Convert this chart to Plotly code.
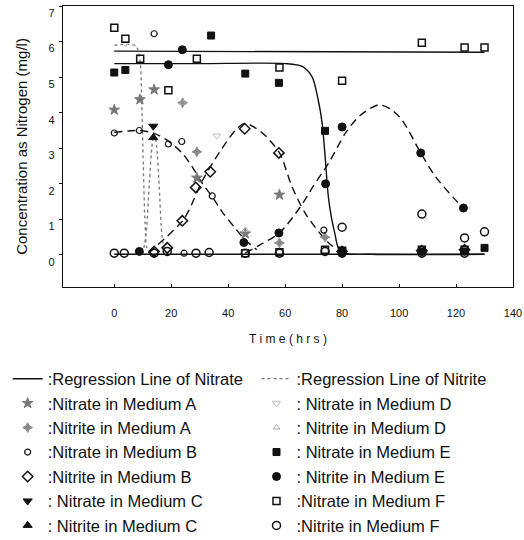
import plotly.graph_objects as go

# ---------------- data ----------------
# Regression lines
reg_nitrate_F_x = [0, 130]
reg_nitrate_F_y = [5.73, 5.70]
reg_nitrate_E_x = [0, 30, 60, 66, 69.5, 71.5, 73, 74, 75.3, 77.4, 79.5, 90, 130]
reg_nitrate_E_y = [5.38, 5.38, 5.38, 5.3, 5.0, 4.4, 3.7, 2.8, 1.55, 0.62, 0.08, 0.02, 0.02]
reg_base_x = [0, 130]
reg_base_y = [0.02, 0.02]
reg_nitrate_B_x = [0, 9, 14, 19, 24, 28, 31, 34.3, 38, 42, 46, 50]
reg_nitrate_B_y = [3.45, 3.5, 3.42, 3.2, 2.85, 2.4, 2.0, 1.65, 1.2, 0.8, 0.42, 0.15]
reg_nitrite_B_x = [12, 14, 18, 24, 26.3, 31, 36.8, 42.7, 46, 52, 58, 62.4, 67, 71.8, 75.3, 78]
reg_nitrite_B_y = [0.05, 0.2, 0.48, 0.96, 1.27, 2.1, 2.87, 3.52, 3.7, 3.43, 2.87, 1.92, 1.18, 0.65, 0.34, 0.15]
reg_nitrite_E_x = [46, 51, 58, 65.4, 70, 75.3, 81.2, 86, 92.8, 97, 101, 107.6, 112.8, 119.8, 122.6]
reg_nitrite_E_y = [0.05, 0.28, 0.62, 1.36, 1.95, 2.59, 3.43, 3.9, 4.22, 4.1, 3.8, 2.87, 2.2, 1.55, 1.32]
reg_nitrate_D_x = [0, 7.5, 9, 9.6, 10.2, 10.8, 11.5, 13]
reg_nitrate_D_y = [5.9, 5.88, 5.5, 4.4, 2.5, 0.9, 0.2, 0.05]
reg_nitrite_D_x = [10, 11.2, 12.3, 13.3, 14, 14.8, 15.8, 16.8, 18]
reg_nitrite_D_y = [0.02, 0.6, 2.0, 3.1, 3.4, 3.1, 1.9, 0.5, 0.02]

# Measured points
nitrate_A_x = [0, 9, 14, 29, 46, 58]
nitrate_A_y = [4.08, 4.37, 4.65, 2.17, 0.6, 1.69]
nitrite_A_x = [24, 29, 58, 74]
nitrite_A_y = [4.28, 2.9, 0.34, 0.5]
nitrate_B_x = [0, 8.8, 14, 19, 23.7, 24.5, 34.4, 73.6]
nitrate_B_y = [3.43, 3.5, 6.22, 3.12, 3.19, 0.05, 1.66, 0.7]
nitrite_B_x = [14, 18.6, 23.9, 28.6, 33.7, 45.8, 57.8, 80, 108, 123]
nitrite_B_y = [0.1, 0.2, 0.96, 1.9, 2.34, 3.55, 2.87, 0.1, 0.12, 0.15]
nitrate_C_x = [13.7]
nitrate_C_y = [3.62]
nitrite_C_x = [13.7]
nitrite_C_y = [3.3]
nitrate_D_x = [4, 36]
nitrate_D_y = [5.95, 3.35]
nitrite_D_x = [24, 46]
nitrite_D_y = [4.28, 0.7]
nitrate_E_x = [0, 3.9, 34, 46, 57.8, 74, 80, 108, 123, 130]
nitrate_E_y = [5.13, 5.2, 6.17, 5.1, 4.84, 3.49, 0.1, 0.1, 0.1, 0.2]
nitrite_E_x = [8.8, 19, 23.9, 45.5, 57.8, 74.2, 80, 80, 107.6, 122.6]
nitrite_E_y = [0.1, 5.35, 5.77, 0.35, 0.62, 2.0, 3.6, 0.08, 2.87, 1.32]
nitrate_F_x = [0, 3.9, 9.1, 19, 29, 46, 58, 58, 74, 80, 80, 108, 108, 123, 123, 130]
nitrate_F_y = [6.39, 6.08, 5.52, 4.63, 5.52, 0.05, 5.27, 0.08, 0.15, 4.9, 0.12, 5.97, 0.15, 5.83, 0.15, 5.83]
nitrite_F_x = [0, 3.5, 14, 18.6, 28.7, 33.3, 46, 58, 74, 80, 80, 108, 108, 123, 123, 130]
nitrite_F_y = [0.05, 0.05, 0.05, 0.1, 0.05, 0.07, 0.05, 0.05, 0.1, 0.05, 0.78, 0.05, 1.15, 0.05, 0.48, 0.65]

x_ticks = [0, 20, 40, 60, 80, 100, 120, 140]
y_ticks = [0, 1, 2, 3, 4, 5, 6, 7]

FONT = "Arial, Liberation Sans, sans-serif"
fig = go.Figure()

def line(x, y, name, dash, color, width, legend, group, show):
    fig.add_trace(go.Scatter(x=x, y=y, mode="lines", name=name,
                             line=dict(color=color, width=width, dash=dash, shape="spline", smoothing=0.8),
                             legend=legend, legendgroup=group, showlegend=show))

def pts(x, y, name, symbol, size, color, lw, legend, fill=None):
    fig.add_trace(go.Scatter(x=x, y=y, mode="markers", name=name, legend=legend, legendgroup=name,
                             marker=dict(symbol=symbol, size=size, color=fill or color,
                                         line=dict(color=color, width=lw))))

# regression lines of nitrate (solid)
line(reg_nitrate_F_x, reg_nitrate_F_y, ":Regression Line of Nitrate", "solid", "#111", 1.4, "legend", "rn", True)
line(reg_nitrate_E_x, reg_nitrate_E_y, "rnE", "solid", "#111", 1.4, "legend", "rn", False)
line(reg_base_x, reg_base_y, "base", "solid", "#111", 1.4, "legend", "rn", False)
line(reg_nitrate_B_x, reg_nitrate_B_y, "rnB", "8px,5px", "#111", 1.4, "legend", "rn", False)
# regression lines of nitrite
line(reg_nitrite_D_x, reg_nitrite_D_y, ":Regression Line of Nitrite", "dot", "#777", 1.3, "legend2", "ri", True)
line(reg_nitrate_D_x, reg_nitrate_D_y, "rnD", "dot", "#777", 1.3, "legend2", "ri", False)
line(reg_nitrite_B_x, reg_nitrite_B_y, "riB", "8px,5px", "#111", 1.4, "legend2", "ri", False)
line(reg_nitrite_E_x, reg_nitrite_E_y, "riE", "8px,5px", "#111", 1.4, "legend2", "ri", False)

# left legend markers
pts(nitrate_A_x, nitrate_A_y, ":Nitrate in Medium A", "star", 8, "#777", 1, "legend")
pts(nitrite_A_x, nitrite_A_y, ":Nitrite in Medium A", "star-diamond", 7, "#888", 1, "legend")
pts(nitrate_B_x, nitrate_B_y, ":Nitrate in Medium B", "circle-open", 6, "#111", 1.2, "legend")
pts(nitrite_B_x, nitrite_B_y, ":Nitrite in Medium B", "diamond-open", 8, "#111", 1.5, "legend")
pts(nitrate_C_x, nitrate_C_y, ": Nitrate in Medium C", "triangle-down", 8, "#111", 1, "legend")
pts(nitrite_C_x, nitrite_C_y, ": Nitrite in Medium C", "triangle-up", 8, "#111", 1, "legend")
# right legend markers
pts(nitrate_D_x, nitrate_D_y, ": Nitrate in Medium D", "triangle-down-open", 7, "#bbb", 1, "legend2")
pts(nitrite_D_x, nitrite_D_y, ": Nitrite in Medium D", "triangle-up-open", 6, "#aaa", 1, "legend2")
pts(nitrate_E_x, nitrate_E_y, ": Nitrate in Medium E", "square", 7, "#111", 1, "legend2")
pts(nitrite_E_x, nitrite_E_y, ": Nitrite in Medium E", "circle", 8, "#111", 1, "legend2")
pts(nitrate_F_x, nitrate_F_y, ":Nitrate in Medium F", "square-open", 7, "#111", 1.5, "legend2")
pts(nitrite_F_x, nitrite_F_y, ":Nitrite in Medium F", "circle-open", 8, "#111", 1.5, "legend2")

leg_common = dict(font=dict(family=FONT, size=16.5, color="#111"), bgcolor="rgba(0,0,0,0)",
                  orientation="v", xanchor="left", yanchor="top", tracegroupgap=0,
                  itemwidth=30, traceorder="grouped")

fig.update_layout(
    width=524, height=540,
    margin=dict(l=63, r=11, t=6, b=253, autoexpand=False),
    paper_bgcolor="white", plot_bgcolor="white",
    font=dict(family=FONT, color="#111"),
    xaxis=dict(range=[-18, 140], tickvals=x_ticks, ticktext=[str(v) for v in x_ticks],
               showgrid=False, zeroline=False, showline=True, linecolor="#111", linewidth=1.3,
               mirror=True, ticks="inside", ticklen=3, tickcolor="#111", automargin=False,
               tickfont=dict(family=FONT, size=11, color="#111"), ticklabelstandoff=16,
               title=dict(text="T i m e ( h r s )", font=dict(family=FONT, size=12, color="#111"), standoff=16)),
    yaxis=dict(range=[-0.9, 7], tickvals=y_ticks, ticktext=[str(v) for v in y_ticks],
               showgrid=False, zeroline=False, showline=True, linecolor="#111", linewidth=1.3,
               mirror=True, ticks="outside", ticklen=3, tickcolor="#111", automargin=False,
               tickfont=dict(family=FONT, size=11, color="#111"), ticklabelstandoff=2, ticklabelshift=7,
               title=dict(text="Concentration as Nitrogen (mg/l)", font=dict(family=FONT, size=15, color="#111"), standoff=17)),
    legend=dict(x=-0.123, y=-0.265, **leg_common),
    legend2=dict(x=0.43, y=-0.265, **leg_common),
)

fig.write_html("out.html", config={"displayModeBar": False},
               post_script="document.body.style.margin='0px';")
